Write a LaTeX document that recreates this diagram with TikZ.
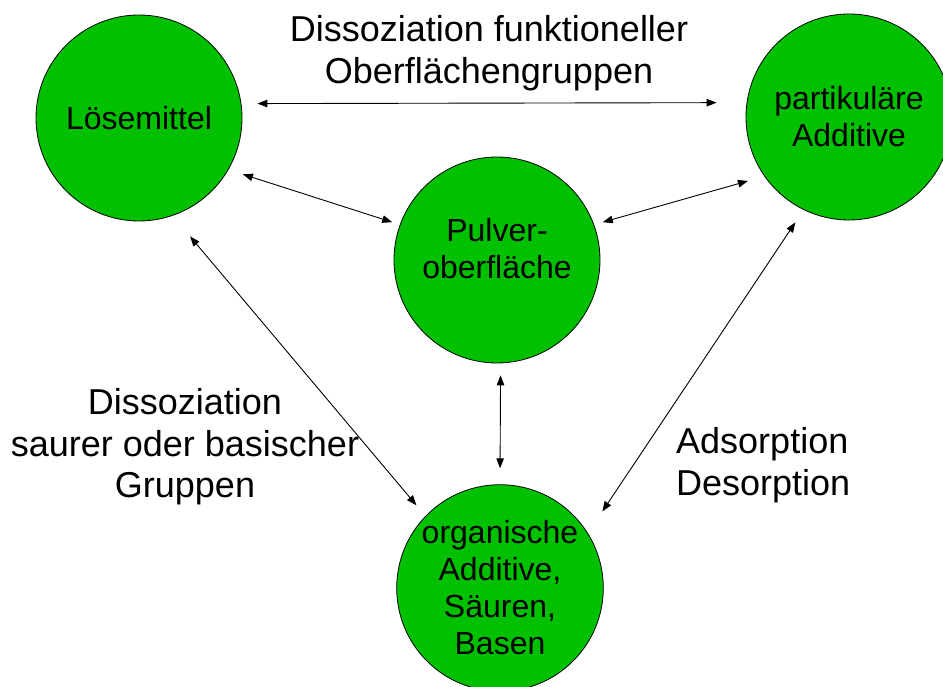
\documentclass[tikz,border=0pt]{standalone}
\usepackage{fontspec}
\setmainfont{Liberation Sans}
\usetikzlibrary{arrows.meta}
\definecolor{circgreen}{RGB}{0,192,0}
\tikzset{
  ball/.style={circle, draw=black, line width=0.8pt, fill=circgreen, minimum size=206pt, inner sep=0pt, align=center, font=\fontsize{32}{37}\selectfont},
  intext/.style={align=center, inner sep=0pt, font=\fontsize{32}{37}\selectfont},
  outtext/.style={align=center, inner sep=0pt, font=\fontsize{36}{41.5}\selectfont},
  link/.style={{Triangle[length=10pt,width=7.5pt]}-{Triangle[length=10pt,width=7.5pt]}, line width=0.9pt}
}
\begin{document}
\begin{tikzpicture}[x=1pt,y=-1pt]
\useasboundingbox (0,0) rectangle (943,687);
\node[ball] (los) at (139,118) {Lösemittel};
\node[ball] (par) at (849,117) {partikuläre\\Additive};
\node[ball] (pul) at (497,260) {};
\node[intext] (pultext) at (497,249) {Pulver-\\oberfläche};
\node[ball] (org) at (500,588) {organische\\Additive,\\Säuren,\\Basen};

\node[outtext] (top) at (489,53) {Dissoziation funktioneller\\Oberflächengruppen};
\node[outtext] (left) at (185,447) {Dissoziation\\saurer oder basischer\\Gruppen};
\node[outtext, align=left, anchor=west] (right) at (676,465) {Adsorption\\Desorption};

\draw[link, shorten <=16pt, shorten >=30pt] (los.8) -- (par.172);
\draw[link, shorten <=15pt, shorten >=8pt] (los.-30) -- (pul.160);
\draw[link, shorten <=9pt, shorten >=17pt] (pul.20) -- (par.-145);
\draw[link, shorten <=27pt, shorten >=14pt] (los.-71) -- (org.136);
\draw[link, shorten <=15pt, shorten >=26pt] (par.-116) -- (org.32);
\draw[link, shorten <=12pt, shorten >=16pt] (pul.-88) -- (org.90);
\end{tikzpicture}
\end{document}
